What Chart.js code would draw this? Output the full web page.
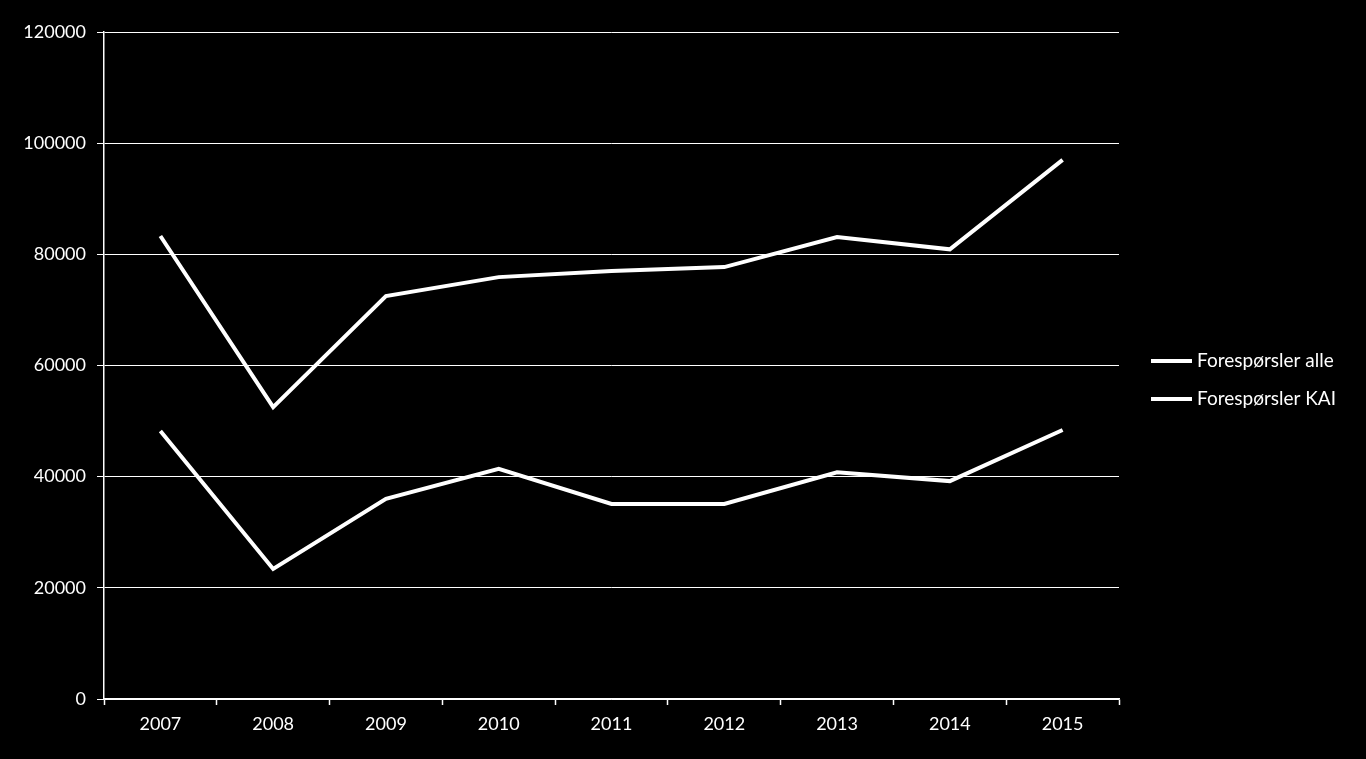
<!DOCTYPE html>
<html>
<head>
<meta charset="utf-8">
<script src="https://cdn.jsdelivr.net/npm/chart.js@4/dist/chart.umd.min.js"></script>
<style>
  html, body { margin: 0; padding: 0; background: #000; }
  #wrap { width: 1366px; height: 759px; }
</style>
</head>
<body>
<div id="wrap"><canvas id="chart"></canvas></div>
<script>
const years = ['2007', '2008', '2009', '2010', '2011', '2012', '2013', '2014', '2015'];
const alle = [83300, 52500, 72500, 75900, 77000, 77700, 83100, 80900, 97000];
const kai = [48200, 23400, 36000, 41400, 35100, 35100, 40800, 39200, 48400];
const seriesNames = ['Forespørsler alle', 'Forespørsler KAI'];
const yTicks = [0, 20000, 40000, 60000, 80000, 100000, 120000];

const FONT = 'Lato, "Open Sans", sans-serif';

// legend drawn at the right, like the original
const sideLegend = {
  id: 'sideLegend',
  afterDraw(chart) {
    const ctx = chart.ctx;
    ctx.save();
    ctx.font = '19px ' + FONT;
    ctx.textBaseline = 'middle';
    ctx.fillStyle = '#fff';
    chart.data.datasets.forEach((ds, i) => {
      const y = 361 + i * 38;
      ctx.strokeStyle = ds.borderColor;
      ctx.lineWidth = 4;
      ctx.beginPath();
      ctx.moveTo(1151, y);
      ctx.lineTo(1192, y);
      ctx.stroke();
      ctx.fillText(ds.label, 1197, y);
    });
    ctx.restore();
  }
};

new Chart(document.getElementById('chart'), {
  type: 'line',
  data: {
    labels: years,
    datasets: [
      { label: seriesNames[0], data: alle, borderColor: '#fff', borderWidth: 4, pointRadius: 0, tension: 0 },
      { label: seriesNames[1], data: kai, borderColor: '#fff', borderWidth: 4, pointRadius: 0, tension: 0 }
    ]
  },
  options: {
    responsive: true,
    maintainAspectRatio: false,
    animation: false,
    layout: { padding: { top: 32, right: 247, left: 0, bottom: 0 } },
    plugins: {
      legend: { display: false },
      tooltip: { enabled: false }
    },
    scales: {
      x: {
        offset: true,
        grid: { drawOnChartArea: false, offset: true, color: '#fff', tickLength: 6, tickWidth: 1.5 },
        border: { color: '#fff', width: 1.5 },
        ticks: { color: '#fff', font: { family: FONT, size: 18 }, padding: 8, maxRotation: 0 },
        afterFit(s) { s.height = 60; }
      },
      y: {
        min: 0,
        max: 120000,
        afterBuildTicks(s) { s.ticks = yTicks.map(v => ({ value: v })); },
        grid: { color: '#fff', tickLength: 7, lineWidth: 1 },
        border: { color: '#fff', width: 1.5 },
        ticks: { color: '#fff', font: { family: FONT, size: 18 }, padding: 11, callback: v => String(v) },
        afterFit(s) { s.width = 104; }
      }
    }
  },
  plugins: [sideLegend]
});
</script>
</body>
</html>
